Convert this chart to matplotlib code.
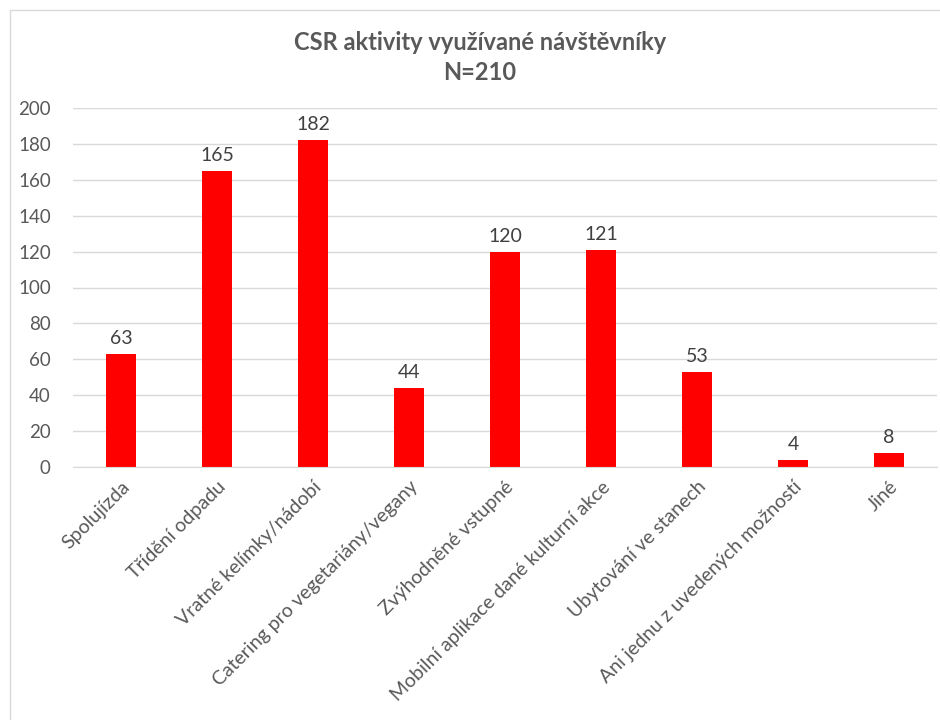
import matplotlib
matplotlib.use("Agg")
import matplotlib.pyplot as plt
from matplotlib.patches import Rectangle

categories = [
    "Spolujízda",
    "Třídění odpadu",
    "Vratné kelímky/nádobí",
    "Catering pro vegetariány/vegany",
    "Zvýhodněné vstupné",
    "Mobilní aplikace dané kulturní akce",
    "Ubytování ve stanech",
    "Ani jednu z uvedených možností",
    "Jiné",
]
counts = [63, 165, 182, 44, 120, 121, 53, 4, 8]
y_ticks = [0, 20, 40, 60, 80, 100, 120, 140, 160, 180, 200]

plt.rcParams["font.family"] = ["Lato", "DejaVu Sans"]
text_grey = "#595959"

fig = plt.figure(figsize=(9.4, 7.2), dpi=100)
ax = fig.add_axes([73 / 940, 1 - 467 / 720, 864 / 940, (467 - 108) / 720])

x = list(range(len(categories)))
bars = ax.bar(x, counts, width=0.31, color="#ff0000", zorder=3)
for xi, v in zip(x, counts):
    ax.annotate(str(v), (xi, v), xytext=(0, 5), textcoords="offset points",
                ha="center", va="bottom", fontsize=14, color="#404040")

ax.set_xlim(-0.5, len(categories) - 0.5)
ax.set_ylim(0, 200)
ax.set_yticks(y_ticks)
ax.set_yticklabels([str(t) for t in y_ticks], fontsize=13.5, color=text_grey)
ax.yaxis.grid(True, color="#d9d9d9", linewidth=1.0, zorder=0)
ax.set_xticks(x)
ax.set_xticklabels(categories, rotation=45, ha="right", rotation_mode="anchor",
                   fontsize=14, color=text_grey)
ax.tick_params(axis="both", length=0)
ax.tick_params(axis="y", pad=16)
ax.tick_params(axis="x", pad=8)
for s in ["top", "right", "left"]:
    ax.spines[s].set_visible(False)
ax.spines["bottom"].set_color("#d9d9d9")
ax.spines["bottom"].set_zorder(4)

fig.text(480 / 940, 1 - 42 / 720, "CSR aktivity využívané návštěvníky",
         ha="center", va="center", fontsize=17, fontweight="bold", color=text_grey)
fig.text(480 / 940, 1 - 72 / 720, "N=210",
         ha="center", va="center", fontsize=17, fontweight="bold", color=text_grey)

# outer chart frame
fig.patches.append(Rectangle((10 / 940, -0.05), 1.0, 1 - 10 / 720 + 0.05,
                             transform=fig.transFigure, fill=False,
                             edgecolor="#d9d9d9", linewidth=1.0))

fig.savefig("out.png", dpi=100)
